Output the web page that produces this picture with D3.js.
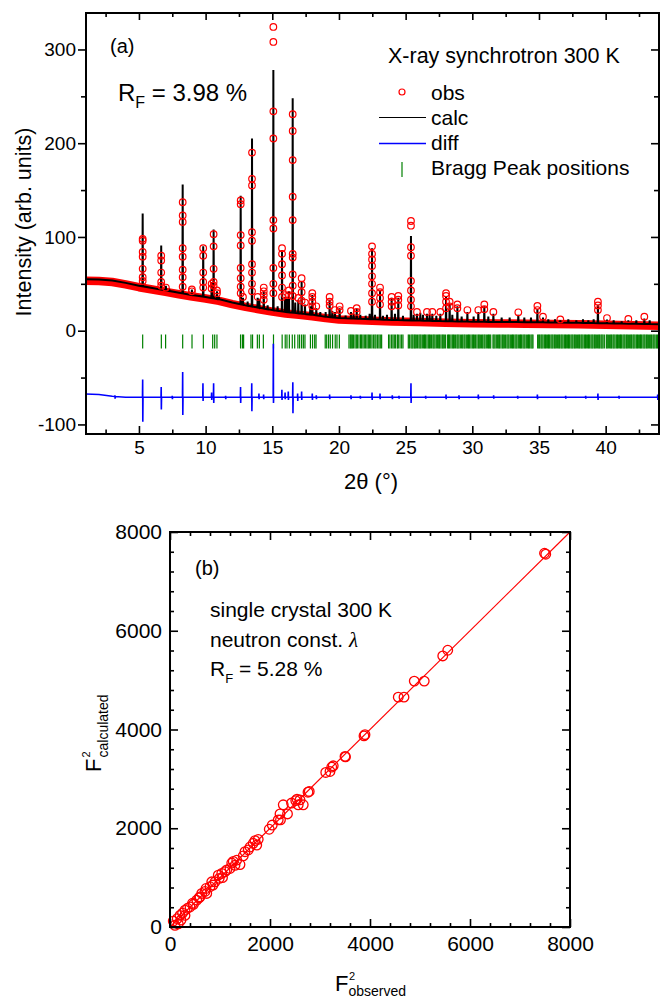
<!DOCTYPE html>
<html>
<head>
<meta charset="utf-8">
<script src="https://cdnjs.cloudflare.com/ajax/libs/d3/7.8.5/d3.min.js"></script>
<style>
  body { margin: 0; background: #fff; }
  svg { display: block; font-family: "Liberation Sans", Arial, sans-serif; }
</style>
</head>
<body>
<svg id="chart" width="667" height="1000"></svg>
<script>
// ---- panel (a): powder pattern ----
// calculated background (2theta, intensity)
var bgTheta = [1, 2, 3, 4, 5, 6, 7, 8, 9, 10, 11, 12, 13, 14, 15, 16, 17, 18, 19, 20,
  22, 24, 26, 28, 30, 32, 34, 36, 38, 40, 42, 44];
var bgCalc = [55, 54.5, 53.5, 51, 48, 45.5, 43, 40.5, 38, 36, 33.5, 30, 27, 24.5, 22, 20,
  18.5, 17, 15, 13.5, 12.5, 11.5, 10.8, 10.2, 9.6, 9.3, 9.1, 8.8, 8.4, 7.9, 7.4, 7];

// peaks: position, calculated top, observed points sitting on the peak
var peakTheta = [5.28, 6.67, 7.02, 7.3, 8.28, 8.97, 9.82, 10.45, 10.6, 10.85, 11.0,
  12.63, 12.8, 13.15, 13.48, 13.9, 14.03, 14.36, 14.65, 15.08, 15.4, 15.73, 15.96, 16.1,
  16.25, 16.53, 16.72, 16.95, 17.2, 17.45, 17.85, 18.0, 18.3, 18.6, 19.0, 19.3, 19.5,
  19.7, 20.05, 20.5, 20.9, 21.1, 21.33, 21.6, 22.0, 22.3, 22.48, 22.7, 23.08, 23.3, 23.6,
  23.95, 24.2, 24.45, 24.8, 25.4, 25.6, 25.85, 26.1, 26.3, 26.6, 26.8, 27.0, 27.3, 27.6,
  28.03, 28.3, 28.5, 28.88, 29.2, 29.63, 30.1, 30.45, 30.9, 31.2, 31.58, 32.2, 32.8,
  33.45, 33.9, 34.4, 34.88, 35.3, 35.7, 36.2, 36.6, 37.2, 37.8, 38.3, 38.7, 39.1, 39.42,
  40.1, 40.6, 41.2, 41.7, 42.3, 42.9, 43.3];
var peakCalc = [125, 91, 48, 43, 156, 44, 90, 52, 108, 42, 36,
  144, 35, 31, 205, 35, 34, 42, 27, 278, 26, 86, 36, 34,
  42, 248, 30, 33, 52, 28, 26, 38, 24, 20, 20, 33, 21,
  20, 24, 16, 20, 18, 23, 17, 16, 18, 88, 17, 43, 16, 17,
  35, 18, 35, 16, 101, 17, 18, 19, 17, 18, 17, 18, 16, 18,
  37, 29, 17, 26, 15, 20, 15, 20, 26, 15, 18, 14, 14,
  17, 14, 14, 23, 14, 12, 12, 11, 12, 11, 12, 11, 12, 27,
  12, 11, 10, 11, 11, 13, 11];
var peakObs = [[98, 96, 84, 79, 66, 57, 53], [80, 75, 62, 52, 48], [46], [],
  [137, 123, 116, 88, 79, 65, 57, 47], [44, 42], [88, 80, 62, 52, 46], [50, 45],
  [103, 90, 66, 52, 48], [43, 40], [],
  [139, 135, 102, 91, 67, 56, 47, 40], [36], [], [190, 162, 155, 105, 96, 71, 62, 50, 42],
  [36], [], [46, 42, 38, 33], [], [324, 308, 234, 205, 118, 109, 67, 50, 40], [],
  [88, 82, 71, 59, 46, 36], [38], [], [43, 38],
  [231, 213, 182, 143, 118, 82, 78, 60, 48, 37], [], [35], [56, 49, 41, 32], [30], [],
  [40, 36, 31, 26], [26], [], [], [36, 31, 27], [], [22], [26, 22], [], [21], [], [24, 20],
  [], [], [], [90, 82, 76, 69, 58, 50, 40, 31], [], [46, 41, 35, 28], [], [],
  [36, 31, 26], [], [37, 33, 27], [], [117, 112, 89, 80, 53, 43, 33, 26], [], [20], [], [],
  [20], [], [20], [], [20], [40, 37, 31, 24], [31, 26], [], [28, 24], [], [22], [], [22],
  [28, 23], [], [20], [], [], [19.6], [], [], [26.5, 22], [15], [], [], [12], [], [], [],
  [], [], [31, 27, 22], [13.5], [], [], [12.5], [], [15], []];

// Bragg reflection positions
var braggTheta = [5.28, 6.68, 7.0, 8.28, 8.98, 9.83, 10.53, 10.68, 10.85, 12.62, 12.76,
  12.85, 13.4, 13.52, 13.88, 14.03, 14.33, 15.09, 15.74, 15.97, 16.1, 16.28, 16.5, 16.68,
  16.92, 17.05, 17.2, 17.33, 17.45, 17.86, 18.02, 18.18, 18.28, 18.97, 19.08, 19.22,
  19.35, 19.52, 19.72, 19.85, 20.03,
  20.75, 20.85, 20.92, 21.0, 21.08, 21.2, 21.3, 21.38, 21.5, 21.62, 21.7, 21.8, 21.9, 22.0,
  22.1, 22.2, 22.28, 22.38, 22.48, 22.6, 22.7, 22.78, 22.9, 23.0, 23.1, 23.2,
  23.72, 23.82, 23.95, 24.05, 24.15, 24.25, 24.38, 24.45, 24.58, 24.7, 24.8,
  25.2, 25.28, 25.4, 25.48, 25.55, 25.65, 25.72, 25.8, 25.9, 26.0, 26.08, 26.15, 26.25,
  26.35, 26.42, 26.5, 26.6, 26.7, 26.78, 26.85, 26.95, 27.05, 27.12, 27.2, 27.3, 27.4,
  27.48, 27.55, 27.65, 27.75, 27.82, 27.9, 28.0,
  28.15, 28.22, 28.3, 28.4, 28.5, 28.58, 28.65, 28.75, 28.85, 28.92, 29.0, 29.1, 29.2,
  29.28, 29.38, 29.45, 29.55, 29.65, 29.72, 29.8, 29.9, 30.0, 30.08, 30.15, 30.25, 30.35,
  30.45, 30.52, 30.6, 30.7, 30.78, 30.88, 30.95, 31.05, 31.15, 31.22, 31.3, 31.38,
  31.55, 31.62, 31.7, 31.8, 31.9, 31.98, 32.05, 32.15, 32.25, 32.32, 32.4, 32.5, 32.6,
  32.68, 32.75, 32.85, 32.95, 33.02, 33.1, 33.2, 33.28, 33.35, 33.45, 33.55, 33.62, 33.7,
  33.8, 33.88, 33.95, 34.05, 34.15, 34.22, 34.3, 34.4, 34.48, 34.55,
  34.9, 34.98, 35.05, 35.15, 35.22, 35.3, 35.4, 35.48, 35.55, 35.65, 35.72, 35.8, 35.9,
  35.98, 36.05, 36.15, 36.22, 36.3, 36.4, 36.48, 36.55, 36.65, 36.72, 36.8, 36.9, 36.98,
  37.05, 37.15, 37.22, 37.3, 37.4, 37.48, 37.55, 37.65, 37.72, 37.8, 37.9, 37.98, 38.05,
  38.15, 38.22, 38.3, 38.4, 38.48, 38.55, 38.65, 38.72, 38.8, 38.9, 38.98, 39.05, 39.15,
  39.22, 39.3, 39.4, 39.48, 39.55, 39.65, 39.72, 39.8, 39.9,
  40.05, 40.12, 40.2, 40.3, 40.38, 40.45, 40.55, 40.62, 40.7, 40.8, 40.88, 40.95, 41.05,
  41.12, 41.2, 41.3, 41.38, 41.45, 41.55, 41.62, 41.7, 41.8, 41.88, 41.95, 42.05, 42.12,
  42.2, 42.3, 42.38, 42.45, 42.55, 42.62, 42.7, 42.8, 42.88, 42.95, 43.05, 43.12, 43.2,
  43.3, 43.38, 43.45, 43.55, 43.62, 43.7, 43.8, 43.88, 43.95];

// difference curve: baseline and spikes (position, top, bottom)
var diffTheta = [1, 2, 3, 4, 44];
var diffBase = [-67.5, -68, -70, -71, -71];
var spikeTheta = [3.2, 5.28, 6.67, 7.5, 8.28, 9.8, 10.45, 10.6, 11.5, 12.62, 13.46, 14.0,
  14.35, 15.08, 15.72, 15.96, 16.2, 16.54, 16.9, 17.2, 18.0, 18.3, 19.3, 20.9, 21.6, 22.48,
  23.08, 24.0, 24.5, 25.4, 26.5, 28.03, 29.0, 30.45, 31.6, 33.4, 34.88, 37.0, 38.5, 39.42,
  41.0, 43.9];
var spikeHigh = [-69, -52, -60, -69.5, -44, -56, -66, -56, -69.5, -60, -56, -67,
  -68, -14, -63, -66, -65, -55, -67, -65, -67, -69, -68, -69, -69.5, -66,
  -67, -69, -69.5, -56, -69.5, -68, -69, -68, -69, -69.5, -68, -69.5, -69.5, -67,
  -69.5, -68];
var spikeLow = [-72.5, -97, -84, -73, -90, -75, -74, -77, -73, -77, -86, -73,
  -73, -77, -74, -73, -74, -88, -75, -74, -74, -73, -73, -73, -72.5, -74,
  -73, -73, -72.5, -77, -72.5, -73, -73, -73, -72.5, -72.5, -73, -72.5, -72.5, -74,
  -72.5, -74];

var xMajorA = [5, 10, 15, 20, 25, 30, 35, 40];
var xMinorA = [2.5, 7.5, 12.5, 17.5, 22.5, 27.5, 32.5, 37.5, 42.5];
var yMajorA = [-100, 0, 100, 200, 300];
var yMinorA = [-50, 50, 150, 250];

// ---- panel (b): single crystal F^2 ----
var f2Obs = [7490, 7515, 5555, 5455, 5085, 4885, 4680, 4565, 3900, 3880, 3510, 3500,
  3265, 3235, 3200, 3115, 2785, 2760, 2665, 2565, 2600, 2515, 2430, 2265, 2350, 2200,
  2165, 2045, 1985, 1765, 1700, 1665, 1735, 1565, 1500, 1465, 1335, 1265, 1235, 1400,
  1200, 1135, 1035, 965, 985, 900, 835, 800, 720, 735, 635, 600, 535, 470, 400, 300,
  300, 200, 145, 65, 165, 100, 580, 700, 860, 1100, 1300, 450, 350, 250, 1050, 1600,
  2210, 2540, 220];
var f2Calc = [7570, 7550, 5605, 5490, 4980, 4980, 4655, 4655, 3895, 3870, 3445, 3455,
  3265, 3240, 3150, 3130, 2745, 2730, 2475, 2475, 2575, 2560, 2510, 2475, 2290, 2290,
  2170, 2065, 1980, 1775, 1750, 1695, 1660, 1560, 1525, 1440, 1355, 1330, 1295, 1265,
  1185, 1155, 1085, 1050, 985, 915, 915, 815, 780, 680, 680, 610, 545, 460, 405, 340,
  235, 235, 170, 120, 65, 35, 590, 720, 850, 1120, 1250, 480, 380, 280, 1000, 1620,
  2170, 2590, 140];

var ticksB = [0, 2000, 4000, 6000, 8000];
var minorB = [400, 800, 1200, 1600, 2400, 2800, 3200, 3600, 4400, 4800, 5200, 5600,
  6400, 6800, 7200, 7600];

var svg = d3.select("#chart");
var RED = "#ff0000";
var plain = function (d) { return String(d); };

function addAxis(axis, tx, ty, size) {
  var g = svg.append("g")
    .attr("transform", "translate(" + tx + "," + ty + ")")
    .call(axis);
  g.attr("font-family", null).attr("font-size", size);
  g.select(".domain").remove();
  g.selectAll("line").attr("stroke", "#000").attr("stroke-width", 1.6);
  g.selectAll("text").attr("fill", "#000");
  return g;
}

// ================= panel (a) =================
var xA = d3.scaleLinear().domain([1.03, 44]).range([86, 659]);
var yA = d3.scaleLinear().domain([-110.2, 338.9]).range([434, 13]);

var bgAt = d3.scaleLinear().domain(bgTheta).range(bgCalc);
var bgPts = bgTheta.map(function (t, i) { return [t, bgCalc[i]]; });
var lineA = d3.line().x(function (d) { return xA(d[0]); }).y(function (d) { return yA(d[1]); });

var plotA = svg.append("g");

// observed band along background (dense overlapping circles)
plotA.append("path")
  .datum(bgPts)
  .attr("d", lineA)
  .attr("transform", "translate(0,1.5)")
  .attr("fill", "none")
  .attr("stroke", RED)
  .attr("stroke-width", 8.5)
  .attr("stroke-linejoin", "round");

// calculated profile
var calcPts = bgPts.slice();
peakTheta.forEach(function (t, i) {
  var b = bgAt(t);
  calcPts.push([t - 0.02, b], [t, peakCalc[i]], [t + 0.02, b]);
});
calcPts.sort(function (a, b) { return a[0] - b[0]; });
plotA.append("path")
  .datum(calcPts)
  .attr("d", lineA)
  .attr("fill", "none")
  .attr("stroke", "#000")
  .attr("stroke-width", 2);

// observed points on peaks
var obsPts = [];
peakTheta.forEach(function (t, i) {
  peakObs[i].forEach(function (v) { obsPts.push([t, v]); });
});
plotA.selectAll("circle.obs")
  .data(obsPts)
  .enter().append("circle")
  .attr("class", "obs")
  .attr("cx", function (d) { return xA(d[0]); })
  .attr("cy", function (d) { return yA(d[1]); })
  .attr("r", 3.3)
  .attr("fill", "none")
  .attr("stroke", RED)
  .attr("stroke-width", 1.2);

// Bragg ticks
plotA.selectAll("line.bragg")
  .data(braggTheta)
  .enter().append("line")
  .attr("x1", function (d) { return xA(d); })
  .attr("x2", function (d) { return xA(d); })
  .attr("y1", yA(-4))
  .attr("y2", yA(-19))
  .attr("stroke", "#008000")
  .attr("stroke-width", 1.2);

// difference curve
var diffAt = d3.scaleLinear().domain(diffTheta).range(diffBase);
var diffPts = diffTheta.map(function (t, i) { return [t, diffBase[i]]; });
spikeTheta.forEach(function (t, i) {
  var b = diffAt(t);
  diffPts.push([t - 0.015, b], [t, spikeHigh[i]], [t + 0.01, spikeLow[i]], [t + 0.025, b]);
});
diffPts.sort(function (a, b) { return a[0] - b[0]; });
plotA.append("path")
  .datum(diffPts)
  .attr("d", lineA)
  .attr("fill", "none")
  .attr("stroke", "#0000ff")
  .attr("stroke-width", 1.6);

// axes (a)
addAxis(d3.axisBottom(xA).tickValues(xMajorA).tickFormat(plain).tickSizeInner(-8).tickSizeOuter(0).tickPadding(7), 0, 434, 19);
addAxis(d3.axisBottom(xA).tickValues(xMinorA).tickSizeInner(-4.5).tickSizeOuter(0).tickFormat(""), 0, 434, 19);
addAxis(d3.axisTop(xA).tickValues(xMajorA).tickSizeInner(-7).tickSizeOuter(0).tickFormat(""), 0, 13, 19);
addAxis(d3.axisTop(xA).tickValues(xMinorA).tickSizeInner(-4).tickSizeOuter(0).tickFormat(""), 0, 13, 19);
addAxis(d3.axisLeft(yA).tickValues(yMajorA).tickFormat(plain).tickSizeInner(8).tickSizeOuter(0).tickPadding(2), 86, 0, 19);
addAxis(d3.axisLeft(yA).tickValues(yMinorA).tickSizeInner(5).tickSizeOuter(0).tickFormat(""), 86, 0, 19);
addAxis(d3.axisRight(yA).tickValues(yMajorA).tickSizeInner(-8).tickSizeOuter(0).tickFormat(""), 659, 0, 19);
addAxis(d3.axisRight(yA).tickValues(yMinorA).tickSizeInner(-5).tickSizeOuter(0).tickFormat(""), 659, 0, 19);

svg.append("rect")
  .attr("x", 86).attr("y", 13).attr("width", 573).attr("height", 421)
  .attr("fill", "none").attr("stroke", "#000").attr("stroke-width", 2);

// titles (a)
svg.append("text")
  .attr("transform", "translate(31,222) rotate(-90)")
  .attr("text-anchor", "middle")
  .attr("font-size", 21.5)
  .text("Intensity (arb. units)");
svg.append("text")
  .attr("x", 371).attr("y", 489)
  .attr("text-anchor", "middle")
  .attr("font-size", 22)
  .text("2θ (°)");

svg.append("text").attr("x", 110).attr("y", 53).attr("font-size", 20).text("(a)");
var rf = svg.append("text").attr("x", 118).attr("y", 101).attr("font-size", 24);
rf.append("tspan").text("R");
rf.append("tspan").attr("font-size", 16).attr("dy", 7).text("F");
rf.append("tspan").attr("dy", -7).text(" = 3.98 %");

svg.append("text").attr("x", 388).attr("y", 63).attr("font-size", 21.5).text("X-ray synchrotron 300 K");

// legend (a)
var legText = ["obs", "calc", "diff", "Bragg Peak positions"];
var legY = [100, 125, 150, 175];
legText.forEach(function (t, i) {
  svg.append("text").attr("x", 431).attr("y", legY[i]).attr("font-size", 21).text(t);
});
svg.append("circle").attr("cx", 402).attr("cy", 92).attr("r", 3)
  .attr("fill", "none").attr("stroke", RED).attr("stroke-width", 1.2);
svg.append("line").attr("x1", 379).attr("x2", 426).attr("y1", 117.5).attr("y2", 117.5)
  .attr("stroke", "#000").attr("stroke-width", 1.2);
svg.append("line").attr("x1", 379).attr("x2", 426).attr("y1", 143.5).attr("y2", 143.5)
  .attr("stroke", "#0000ff").attr("stroke-width", 1.4);
svg.append("line").attr("x1", 402).attr("x2", 402).attr("y1", 162).attr("y2", 177)
  .attr("stroke", "#008000").attr("stroke-width", 1.2);

// ================= panel (b) =================
var xB = d3.scaleLinear().domain([0, 8000]).range([170, 570]);
var yB = d3.scaleLinear().domain([0, 8000]).range([927, 532]);

svg.append("line")
  .attr("x1", xB(0)).attr("y1", yB(0)).attr("x2", xB(8000)).attr("y2", yB(8000))
  .attr("stroke", RED).attr("stroke-width", 1.2);

svg.selectAll("circle.f2")
  .data(f2Obs)
  .enter().append("circle")
  .attr("class", "f2")
  .attr("cx", function (d) { return xB(d); })
  .attr("cy", function (d, i) { return yB(f2Calc[i]); })
  .attr("r", 4.8)
  .attr("fill", "none")
  .attr("stroke", RED)
  .attr("stroke-width", 1.3);

addAxis(d3.axisBottom(xB).tickValues(ticksB).tickFormat(plain).tickSizeInner(-8).tickSizeOuter(0).tickPadding(9), 0, 927, 21);
addAxis(d3.axisBottom(xB).tickValues(minorB).tickSizeInner(-4).tickSizeOuter(0).tickFormat(""), 0, 927, 21);
addAxis(d3.axisTop(xB).tickValues(ticksB).tickSizeInner(-8).tickSizeOuter(0).tickFormat(""), 0, 532, 21);
addAxis(d3.axisTop(xB).tickValues(minorB).tickSizeInner(-4).tickSizeOuter(0).tickFormat(""), 0, 532, 21);
addAxis(d3.axisLeft(yB).tickValues(ticksB).tickFormat(plain).tickSizeInner(-8).tickSizeOuter(0).tickPadding(8), 170, 0, 21);
addAxis(d3.axisLeft(yB).tickValues(minorB).tickSizeInner(-4).tickSizeOuter(0).tickFormat(""), 170, 0, 21);
addAxis(d3.axisRight(yB).tickValues(ticksB).tickSizeInner(-8).tickSizeOuter(0).tickFormat(""), 570, 0, 21);
addAxis(d3.axisRight(yB).tickValues(minorB).tickSizeInner(-4).tickSizeOuter(0).tickFormat(""), 570, 0, 21);

svg.append("rect")
  .attr("x", 170).attr("y", 532).attr("width", 400).attr("height", 395)
  .attr("fill", "none").attr("stroke", "#000").attr("stroke-width", 2);

// titles (b)
var yt = svg.append("text")
  .attr("transform", "translate(101,772) rotate(-90)")
  .attr("font-size", 22);
yt.append("tspan").attr("x", 0).attr("y", 0).text("F");
yt.append("tspan").attr("x", 14.5).attr("y", -11).attr("font-size", 11).text("2");
yt.append("tspan").attr("x", 14.5).attr("y", 7).attr("font-size", 14).text("calculated");

var xt = svg.append("text").attr("font-size", 22);
xt.append("tspan").attr("x", 335).attr("y", 991).text("F");
xt.append("tspan").attr("x", 349).attr("y", 980).attr("font-size", 11).text("2");
xt.append("tspan").attr("x", 348.5).attr("y", 996).attr("font-size", 14).text("observed");

svg.append("text").attr("x", 195).attr("y", 575).attr("font-size", 20).text("(b)");
svg.append("text").attr("x", 210).attr("y", 617).attr("font-size", 21).text("single crystal 300 K");
var nl = svg.append("text").attr("x", 210).attr("y", 647).attr("font-size", 21);
nl.append("tspan").text("neutron const. ");
nl.append("tspan").attr("font-family", "'Liberation Serif', serif").attr("font-style", "italic").text("λ");
var rfb = svg.append("text").attr("x", 210).attr("y", 676).attr("font-size", 21);
rfb.append("tspan").text("R");
rfb.append("tspan").attr("font-size", 13).attr("dy", 7).text("F");
rfb.append("tspan").attr("dy", -7).text(" = 5.28 %");
</script>
</body>
</html>
